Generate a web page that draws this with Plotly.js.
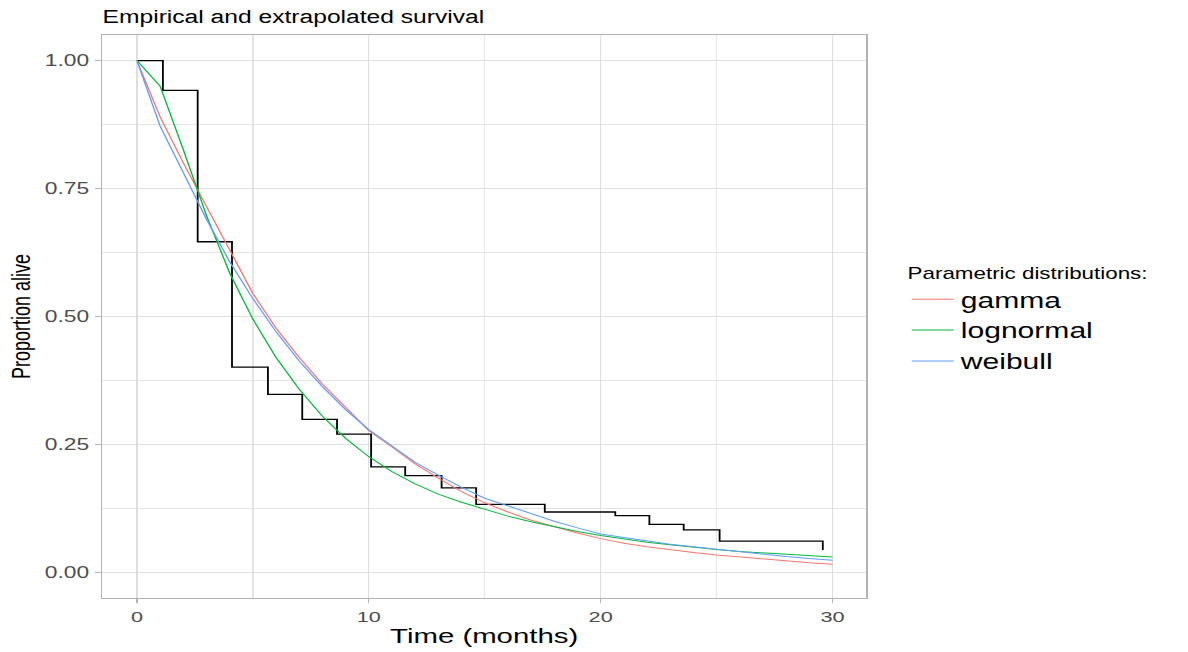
<!DOCTYPE html>
<html>
<head>
<meta charset="utf-8">
<script src="https://cdn.plot.ly/plotly-3.0.1.min.js"></script>
<style>
  html, body { margin: 0; padding: 0; background: #ffffff; overflow: hidden; }
  /* the reference image is a horizontally stretched ggplot; draw at native aspect and stretch */
  #chart { width: 849px; height: 652px; transform: scaleX(1.39929); transform-origin: 0 0; }
</style>
</head>
<body>
<div id="chart"></div>
<script>
// ---- data ----
const kmTime = [0, 1.12, 2.62, 4.10, 5.65, 7.13, 8.63, 10.10, 11.57, 13.14, 14.63, 17.59, 20.63, 22.10, 23.58, 25.13, 29.58];
const kmSurv = [1.000, 0.942, 0.646, 0.401, 0.348, 0.299, 0.270, 0.206, 0.189, 0.165, 0.133, 0.118, 0.111, 0.094, 0.083, 0.061, 0.044];

const fitTime = [0,1,2,3,4,5,6,7,8,9,10,11,12,13,14,15,16,17,18,19,20,21,22,23,24,25,26,27,28,29,30];
const gammaSurv = [1, 0.89, 0.80, 0.715, 0.626, 0.545, 0.477, 0.42, 0.368, 0.322, 0.277, 0.245, 0.212, 0.184, 0.158, 0.136, 0.118, 0.102, 0.089, 0.077, 0.066, 0.057, 0.050, 0.044, 0.039, 0.034, 0.030, 0.026, 0.022, 0.019, 0.016];
const lognormalSurv = [1, 0.95, 0.826, 0.697, 0.585, 0.495, 0.42, 0.358, 0.305, 0.262, 0.226, 0.197, 0.173, 0.153, 0.137, 0.123, 0.110, 0.099, 0.089, 0.080, 0.072, 0.065, 0.059, 0.054, 0.049, 0.045, 0.041, 0.038, 0.035, 0.032, 0.030];
const weibullSurv = [1, 0.872, 0.781, 0.69, 0.607, 0.535, 0.47, 0.413, 0.363, 0.318, 0.279, 0.246, 0.215, 0.19, 0.166, 0.145, 0.13, 0.115, 0.100, 0.087, 0.075, 0.068, 0.061, 0.055, 0.050, 0.045, 0.040, 0.036, 0.031, 0.027, 0.024];

const seriesNames = ['gamma', 'lognormal', 'weibull'];
const seriesColors = ['#F8766D', '#00BA38', '#619CFF'];
const seriesValues = [gammaSurv, lognormalSurv, weibullSurv];

const xTicks = [0, 10, 20, 30];
const yTicks = [0, 0.25, 0.5, 0.75, 1];

const chartTitle = 'Empirical and extrapolated survival';
const xTitle = 'Time (months)';
const yTitle = 'Proportion alive';
const legendTitle = 'Parametric distributions:';

// ---- traces ----
const traces = [{
  type: 'scatter', mode: 'lines', x: kmTime, y: kmSurv,
  line: { shape: 'hv', color: '#000000', width: 1.3 },
  showlegend: false, hoverinfo: 'skip'
}];
seriesNames.forEach((n, i) => {
  traces.push({
    type: 'scatter', mode: 'lines', name: n, x: fitTime, y: seriesValues[i],
    line: { color: seriesColors[i], width: 1.0 }
  });
});

const FONT = 'Liberation Sans, Arial, sans-serif';
const W = 849, H = 652;
const plotL = 73.3, plotR = 619.4;

const layout = {
  width: W, height: H,
  margin: { l: plotL, r: W - plotR, t: 35, b: 54, pad: 0 },
  paper_bgcolor: '#ffffff', plot_bgcolor: '#ffffff',
  font: { family: FONT, color: '#000000' },
  title: {
    text: chartTitle, font: { family: FONT, size: 17.6, color: '#000000' },
    xref: 'container', x: plotL / W, xanchor: 'left',
    yref: 'container', y: 1 - 17 / H, yanchor: 'middle'
  },
  xaxis: {
    range: [-1.5, 31.45], tickmode: 'array', tickvals: xTicks, ticktext: xTicks.map(String),
    ticks: 'outside', ticklen: 4, tickwidth: 1, tickcolor: '#B3B3B3',
    showgrid: true, gridcolor: '#DEDEDE', gridwidth: 1,
    minor: { dtick: 5, tick0: 0, showgrid: true, gridcolor: '#E4E4E4', gridwidth: 0.8, ticks: '' },
    showline: true, mirror: true, linecolor: '#B3B3B3', linewidth: 1,
    zeroline: false,
    tickfont: { family: FONT, size: 15.5, color: '#4D4D4D' },
    title: { text: xTitle, font: { family: FONT, size: 21, color: '#000000' }, standoff: 4 }
  },
  yaxis: {
    range: [-0.05, 1.05], tickmode: 'array', tickvals: yTicks, ticktext: yTicks.map(v => v.toFixed(2)),
    ticks: 'outside', ticklen: 4, tickwidth: 1, tickcolor: '#B3B3B3',
    showgrid: true, gridcolor: '#DEDEDE', gridwidth: 1,
    minor: { dtick: 0.125, tick0: 0, showgrid: true, gridcolor: '#E4E4E4', gridwidth: 0.8, ticks: '' },
    showline: true, mirror: true, linecolor: '#B3B3B3', linewidth: 1,
    zeroline: false,
    tickfont: { family: FONT, size: 16.3, color: '#4D4D4D' },
    ticklabelstandoff: 1,
    title: { text: yTitle, font: { family: FONT, size: 18, color: '#000000' }, standoff: 5 }
  },
  legend: {
    x: 1.0506, xanchor: 'left', y: 0.494, yanchor: 'middle',
    font: { family: FONT, size: 21.5, color: '#000000' },
    title: { text: legendTitle, font: { family: FONT, size: 16, color: '#000000' } },
    bgcolor: 'rgba(0,0,0,0)', borderwidth: 0, tracegroupgap: 0
  },
  showlegend: true
};

Plotly.newPlot('chart', traces, layout, { displayModeBar: false, responsive: false });
</script>
</body>
</html>
